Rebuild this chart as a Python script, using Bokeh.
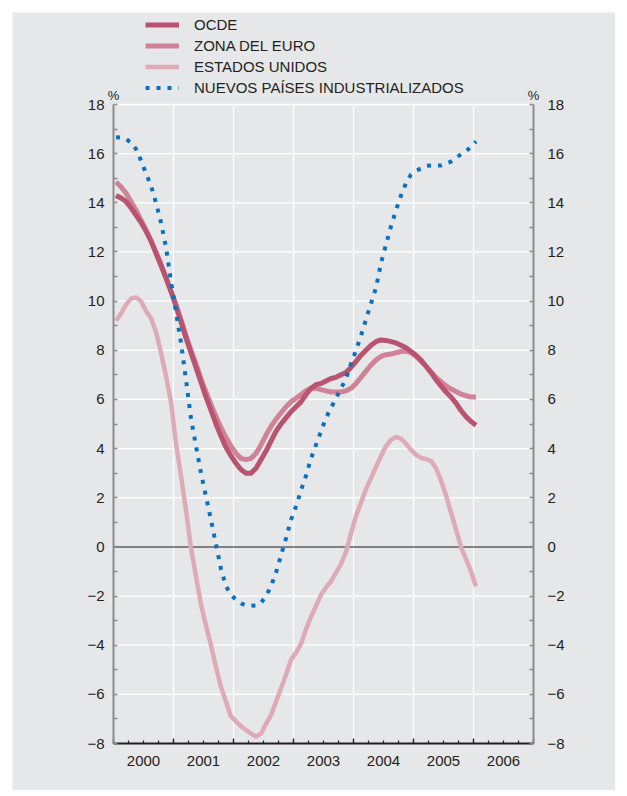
from bokeh.plotting import figure
from bokeh.models import (LinearAxis, FixedTicker, Legend, LegendItem,
                          Label, Range1d)
from bokeh.embed import file_html
from bokeh.resources import INLINE

# ---- data (monthly, Jan 2000 .. Jan 2006) ----
anio_inicio = 2000
n_meses = 73
fechas = [anio_inicio + (m + 0.5) / 12 for m in range(n_meses)]

ocde = [14.3, 14.2, 14.05, 13.8, 13.5, 13.2, 12.85, 12.45, 11.95, 11.45, 10.95, 10.4,
        9.8, 9.15, 8.5, 7.9, 7.3, 6.7, 6.1, 5.55, 5.0, 4.5, 4.05, 3.7,
        3.4, 3.15, 3.0, 3.0, 3.2, 3.55, 3.9, 4.3, 4.7, 5.0, 5.25, 5.5,
        5.7, 5.9, 6.2, 6.45, 6.6, 6.65, 6.75, 6.85, 6.9, 7.0, 7.1, 7.3,
        7.55, 7.8, 8.0, 8.2, 8.35, 8.42, 8.4, 8.35, 8.3, 8.2, 8.1, 7.95,
        7.8, 7.6, 7.35, 7.1, 6.8, 6.55, 6.3, 6.1, 5.85, 5.55, 5.3, 5.1,
        4.95]

zona_euro = [14.85, 14.65, 14.4, 14.05, 13.7, 13.3, 12.9, 12.45, 12.0, 11.5, 10.95, 10.4,
             9.85, 9.25, 8.6, 8.0, 7.45, 6.85, 6.3, 5.8, 5.3, 4.85, 4.45, 4.1,
             3.8, 3.6, 3.55, 3.6, 3.8, 4.15, 4.55, 4.9, 5.2, 5.45, 5.7, 5.9,
             6.05, 6.2, 6.35, 6.45, 6.45, 6.4, 6.35, 6.3, 6.3, 6.3, 6.35, 6.45,
             6.65, 6.9, 7.15, 7.4, 7.6, 7.75, 7.82, 7.85, 7.9, 7.95, 7.97, 7.9,
             7.75, 7.55, 7.35, 7.1, 6.9, 6.72, 6.55, 6.42, 6.32, 6.22, 6.15, 6.1,
             6.1]

estados_unidos = [9.2, 9.5, 9.85, 10.1, 10.15, 10.0, 9.6, 9.3, 8.75, 7.9, 6.95, 5.9,
                  4.2, 2.9, 1.5, -0.05, -1.2, -2.35, -3.2, -4.0, -4.9, -5.7, -6.3, -6.9,
                  -7.1, -7.3, -7.45, -7.6, -7.72, -7.6, -7.2, -6.85, -6.3, -5.75, -5.2, -4.6,
                  -4.3, -3.95, -3.35, -2.85, -2.4, -1.95, -1.65, -1.4, -1.05, -0.7, -0.2, 0.55,
                  1.25, 1.8, 2.35, 2.8, 3.25, 3.7, 4.1, 4.35, 4.48, 4.4, 4.2, 3.95,
                  3.75, 3.62, 3.57, 3.5, 3.2, 2.7, 2.1, 1.4, 0.7, 0.0, -0.5, -1.0,
                  -1.6]

nuevos_paises = [16.67, 16.65, 16.6, 16.45, 16.19, 15.72, 15.2, 14.7, 14.0, 13.2, 12.2, 10.8,
                 9.55, 8.3, 6.8, 5.23, 4.1, 3.0, 2.05, 1.1, 0.1, -0.9, -1.6, -1.95,
                 -2.15, -2.3, -2.38, -2.4, -2.38, -2.28, -2.0, -1.6, -1.05, -0.35, 0.35, 1.1,
                 1.65, 2.3, 2.9, 3.6, 4.15, 4.7, 5.25, 5.65, 6.05, 6.45, 6.85, 7.45,
                 8.0, 8.6, 9.25, 9.9, 10.55, 11.55, 12.3, 13.05, 13.7, 14.3, 14.8, 15.15,
                 15.3, 15.4, 15.5, 15.52, 15.52, 15.52, 15.6, 15.68, 15.82, 15.98, 16.1, 16.28,
                 16.5]

series_labels = ["OCDE", "ZONA DEL EURO", "ESTADOS UNIDOS", "NUEVOS PAÍSES INDUSTRIALIZADOS"]
year_labels = [2000, 2001, 2002, 2003, 2004, 2005, 2006]
year_edges = [2000, 2001, 2002, 2003, 2004, 2005, 2006, 2007]
y_ticks = [-8, -6, -4, -2, 0, 2, 4, 6, 8, 10, 12, 14, 16, 18]
y_minor = [-7, -5, -3, -1, 1, 3, 5, 7, 9, 11, 13, 15, 17]

# ---- styles / layout ----
BG = "#e6e7e8"
TXT = "#231f20"
AXG = "#8c8c8c"
C_OCDE = "#b9536f"
C_ZONA = "#d08397"
C_US = "#deaab7"
C_NUEVOS = "#0a70c0"
FONT = "Liberation Sans"

W, H = 603, 778
AX_LEFT_PX, AX_RIGHT_PX = 101, 82   # free space left / right of the plotting box
AX_TOP_PX, AX_BOTTOM_PX = 92, 47     # free space above / below the plotting box
AXIS_PX_X = W - AX_LEFT_PX - AX_RIGHT_PX
AXIS_PX_Y = H - AX_TOP_PX - AX_BOTTOM_PX

x_lo_d, x_hi_d = year_edges[0], year_edges[-1]
y_lo, y_hi = y_ticks[0], y_ticks[-1]
ux = (x_hi_d - x_lo_d) / AXIS_PX_X
uy = (y_hi - y_lo) / AXIS_PX_Y

# the frame covers the whole canvas, so nothing (legend, labels) gets clipped
p = figure(width=W, height=H,
           x_range=Range1d(x_lo_d - AX_LEFT_PX * ux, x_hi_d + AX_RIGHT_PX * ux),
           y_range=Range1d(y_lo - AX_BOTTOM_PX * uy, y_hi + AX_TOP_PX * uy),
           output_backend="svg", toolbar_location=None,
           min_border_left=0, min_border_right=0,
           min_border_top=0, min_border_bottom=0,
           background_fill_color=BG, border_fill_color=BG,
           outline_line_color=None)
p.margin = (12, 0, 0, 12)
p.xgrid.visible = False
p.ygrid.visible = False

# grid lines (white) limited to the plotting box
inner_edges = year_edges[1:-1]
p.segment(x0=inner_edges, x1=inner_edges, y0=[y_lo] * len(inner_edges),
          y1=[y_hi] * len(inner_edges), line_color="white", line_width=1.3)
grid_y = [t for t in y_ticks if t != y_lo]
p.segment(x0=[x_lo_d] * len(grid_y), x1=[x_hi_d] * len(grid_y), y0=grid_y, y1=grid_y,
          line_color="white", line_width=1.3)
# zero line
p.segment(x0=[x_lo_d], x1=[x_hi_d], y0=[0], y1=[0], line_color="#5a5a5a", line_width=1.5)

# bottom axis: labels centered in each year
mids = [y + 0.5 for y in year_labels]
quarters = [e + q / 4 for e in year_edges[:-1] for q in range(4)] + [year_edges[-1]]
xa = p.xaxis[0]
xa.fixed_location = y_lo
xa.bounds = (x_lo_d, x_hi_d)
xa.ticker = FixedTicker(ticks=mids, minor_ticks=quarters)
xa.major_label_overrides = {m: str(y) for m, y in zip(mids, year_labels)}
xa.major_tick_line_color = None
xa.minor_tick_in = 3
xa.minor_tick_out = 0
xa.minor_tick_line_color = TXT
xa.minor_tick_line_width = 1.2
xa.axis_line_color = TXT
xa.axis_line_width = 2
xa.major_label_standoff = 6
xa.major_label_text_font = FONT
xa.major_label_text_font_size = "15px"
xa.major_label_text_color = TXT

def style_y(ax, standoff, loc):
    ax.fixed_location = loc
    ax.ticker = FixedTicker(ticks=y_ticks, minor_ticks=y_minor)
    ax.bounds = (y_lo, y_hi)
    ax.axis_line_color = AXG
    ax.axis_line_width = 2
    ax.major_tick_in = 4
    ax.major_tick_out = 0
    ax.minor_tick_in = 4
    ax.minor_tick_out = 0
    ax.major_tick_line_color = AXG
    ax.minor_tick_line_color = AXG
    ax.major_tick_line_width = 1.3
    ax.minor_tick_line_width = 1.3
    ax.major_label_standoff = standoff
    ax.major_label_text_font = FONT
    ax.major_label_text_font_size = "15px"
    ax.major_label_text_color = TXT

style_y(p.yaxis[0], 9, x_lo_d)
ra = LinearAxis()
style_y(ra, 14, x_hi_d)
p.add_layout(ra, "right")

# longer ticks at year boundaries
p.segment(x0=year_edges, x1=year_edges, y0=[y_lo] * len(year_edges),
          y1=[y_lo + 5 * uy] * len(year_edges), line_color=TXT, line_width=1.3)

# series
r_us = p.line(fechas, estados_unidos, line_color=C_US, line_width=4.5, line_join="round")
r_zona = p.line(fechas, zona_euro, line_color=C_ZONA, line_width=5, line_join="round")
r_ocde = p.line(fechas, ocde, line_color=C_OCDE, line_width=5, line_join="round")
r_np = p.line(fechas, nuevos_paises, line_color=C_NUEVOS, line_width=4, line_dash="4 7")

legend = Legend(items=[LegendItem(label=series_labels[0], renderers=[r_ocde]),
                       LegendItem(label=series_labels[1], renderers=[r_zona]),
                       LegendItem(label=series_labels[2], renderers=[r_us]),
                       LegendItem(label=series_labels[3], renderers=[r_np])],
                location=(AX_LEFT_PX + 32, AX_BOTTOM_PX + 645), orientation="vertical",
                glyph_width=34, glyph_height=21, label_height=21,
                label_standoff=15, spacing=0, padding=0, margin=0,
                border_line_color=None, background_fill_alpha=0,
                label_text_font=FONT, label_text_font_size="15px",
                label_text_color=TXT)
p.add_layout(legend)

# % units above both axes
for xv in (x_lo_d, x_hi_d):
    p.add_layout(Label(x=xv, y=y_hi, text="%", text_align="center",
                       text_baseline="middle", y_offset=9, text_font=FONT,
                       text_font_size="13px", text_color=TXT))

open("out.html", "w").write(file_html(p, INLINE))
